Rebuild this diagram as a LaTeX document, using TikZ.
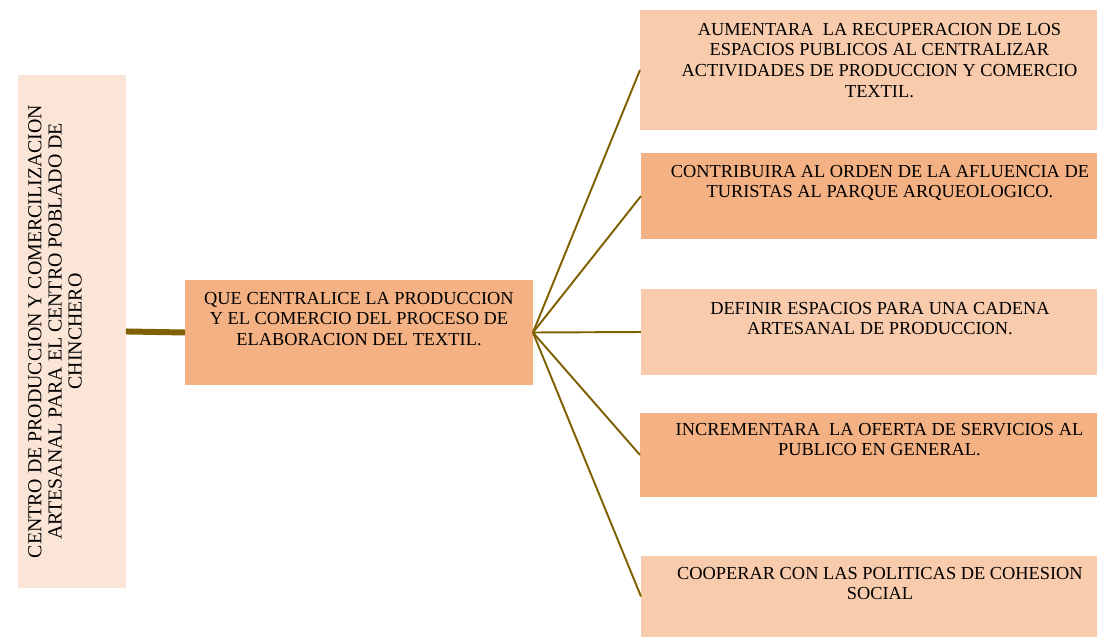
\documentclass[tikz,border=0pt]{standalone}
\usepackage{fontspec}
\setmainfont{Liberation Serif}
\usetikzlibrary{positioning}
\definecolor{peachpale}{HTML}{FBE5D6}
\definecolor{peachlight}{HTML}{F8CBAD}
\definecolor{peachdark}{HTML}{F4B183}
\definecolor{olivebrown}{HTML}{7F6000}

\begin{document}
\begin{tikzpicture}[
        x=0.02cm, y=-0.02cm,
        box/.style={rectangle, anchor=north west, inner sep=0pt, outer sep=0pt},
        txt/.style={inner sep=0pt, align=center, font=\fontsize{10.45}{11.9}\selectfont},
        link/.style={draw=olivebrown, line width=1.1pt}
    ]
    \useasboundingbox (0,0) rectangle (1097,637);

    % Boxes
    \node[box, fill=peachpale, minimum width=2.16cm, minimum height=10.26cm] (core) at (18,75) {};
    \node[box, fill=peachdark, minimum width=6.96cm, minimum height=2.1cm] (aim) at (185,280) {};
    \node[box, fill=peachlight, minimum width=9.14cm, minimum height=2.4cm] (r1) at (640,10) {};
    \node[box, fill=peachdark, minimum width=9.12cm, minimum height=1.72cm] (r2) at (641,153) {};
    \node[box, fill=peachlight, minimum width=9.12cm, minimum height=1.72cm] (r3) at (641,289) {};
    \node[box, fill=peachdark, minimum width=9.14cm, minimum height=1.68cm] (r4) at (640,413) {};
    \node[box, fill=peachlight, minimum width=9.12cm, minimum height=1.62cm] (r5) at (641,556) {};

    % Texts
    \node[txt, rotate=90, anchor=north, font=\fontsize{11.3}{11.4}\selectfont] (coretxt) at ([xshift=0.2cm]core.west)
        {CENTRO DE PRODUCCION Y COMERCILIZACION\\ARTESANAL PARA EL CENTRO POBLADO DE\\CHINCHERO};
    \node[txt, below=0.23cm of aim.north] (aimtxt)
        {QUE CENTRALICE LA PRODUCCION\\Y EL COMERCIO DEL PROCESO DE\\ELABORACION DEL TEXTIL.};
    \node[txt, below=0.25cm of r1.north, xshift=0.22cm] (t1)
        {AUMENTARA\ \ LA RECUPERACION DE LOS\\ESPACIOS PUBLICOS AL CENTRALIZAR\\ACTIVIDADES DE PRODUCCION Y COMERCIO\\TEXTIL.};
    \node[txt, below=0.23cm of r2.north, xshift=0.22cm] (t2)
        {CONTRIBUIRA AL ORDEN DE LA AFLUENCIA DE\\TURISTAS AL PARQUE ARQUEOLOGICO.};
    \node[txt, below=0.25cm of r3.north, xshift=0.22cm] (t3)
        {DEFINIR ESPACIOS PARA UNA CADENA\\ARTESANAL DE PRODUCCION.};
    \node[txt, below=0.19cm of r4.north, xshift=0.22cm] (t4)
        {INCREMENTARA\ \ LA OFERTA DE SERVICIOS AL\\PUBLICO EN GENERAL.};
    \node[txt, below=0.21cm of r5.north, xshift=0.22cm] (t5)
        {COOPERAR CON LAS POLITICAS DE COHESION\\SOCIAL};

    % Connectors
    \draw[olivebrown, line width=3.4pt] (core.east) -- (aim.west);
    \foreach \r in {r1,r2,r3,r4,r5}
        \draw[link] (aim.east) -- (\r.west);

\end{tikzpicture}
\end{document}
